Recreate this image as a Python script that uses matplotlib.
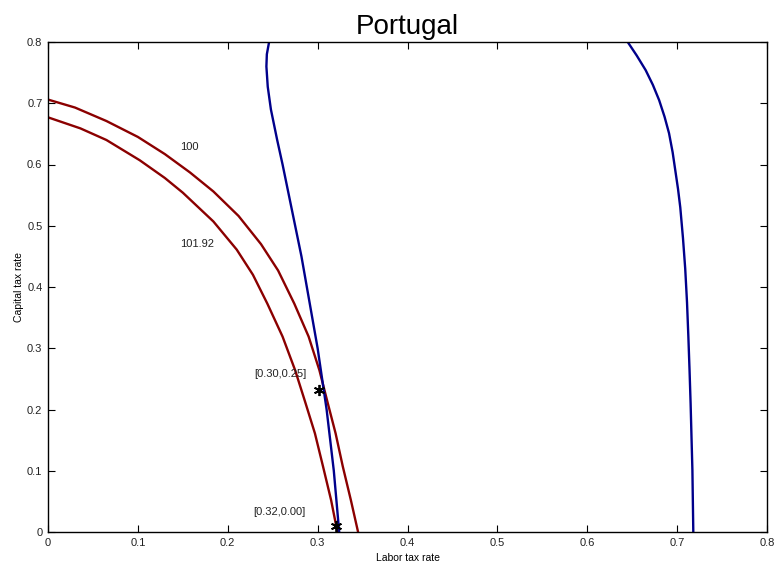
import matplotlib.pyplot as plt

plt.rcParams['font.family'] = ['Liberation Sans', 'DejaVu Sans']

# iso-welfare curves (red)
w100_x = [0.000, 0.030, 0.065, 0.100, 0.130, 0.158, 0.184, 0.212, 0.237, 0.256, 0.274, 0.290, 0.302, 0.311, 0.320, 0.328, 0.337, 0.345]
w100_y = [0.706, 0.693, 0.671, 0.645, 0.617, 0.587, 0.556, 0.516, 0.470, 0.427, 0.373, 0.319, 0.264, 0.212, 0.161, 0.107, 0.052, 0.000]

w10192_x = [0.000, 0.036, 0.065, 0.102, 0.130, 0.150, 0.184, 0.210, 0.228, 0.244, 0.261, 0.275, 0.286, 0.297, 0.306, 0.315, 0.322]
w10192_y = [0.677, 0.659, 0.640, 0.607, 0.578, 0.554, 0.507, 0.461, 0.420, 0.373, 0.319, 0.264, 0.213, 0.161, 0.107, 0.052, 0.000]

# blue curves
b1_x = [0.246, 0.2435, 0.243, 0.2445, 0.248, 0.255, 0.261, 0.268, 0.275, 0.282, 0.288, 0.294, 0.300, 0.305, 0.310, 0.314, 0.318, 0.321, 0.324]
b1_y = [0.800, 0.780, 0.760, 0.727, 0.690, 0.640, 0.600, 0.550, 0.500, 0.450, 0.400, 0.350, 0.300, 0.250, 0.200, 0.150, 0.100, 0.050, 0.000]

b2_x = [0.645, 0.655, 0.665, 0.673, 0.680, 0.686, 0.691, 0.695, 0.698, 0.701, 0.7035, 0.7065, 0.709, 0.711, 0.7125, 0.7138, 0.715, 0.716, 0.717, 0.7175, 0.718]
b2_y = [0.800, 0.778, 0.754, 0.730, 0.705, 0.678, 0.651, 0.620, 0.590, 0.560, 0.530, 0.480, 0.430, 0.375, 0.319, 0.265, 0.210, 0.155, 0.101, 0.050, 0.000]

star_x = [0.302, 0.321]
star_y = [0.232, 0.010]
star_labels = ['[0.30,0.25]', '[0.32,0.00]']
label_pos = [(0.259, 0.258), (0.257, 0.033)]

curve_labels = ['100', '101.92']
curve_label_pos = [(0.157, 0.629), (0.166, 0.470)]

ticks = [0, 0.1, 0.2, 0.3, 0.4, 0.5, 0.6, 0.7, 0.8]
tick_labels = ['0', '0.1', '0.2', '0.3', '0.4', '0.5', '0.6', '0.7', '0.8']

red = '#8b0000'
blue = '#00008b'

fig = plt.figure(figsize=(7.77, 5.69), dpi=100)
ax = fig.add_axes([48 / 777, 37 / 569, 719 / 777, 490 / 569])

ax.plot(w100_x, w100_y, color=red, lw=1.7)
ax.plot(w10192_x, w10192_y, color=red, lw=1.7)
ax.plot(b1_x, b1_y, color=blue, lw=1.7)
ax.plot(b2_x, b2_y, color=blue, lw=1.7)
ax.plot(star_x, star_y, color='k', marker=(6, 2, 0), ms=8, mew=1.3,
        ls='none', clip_on=False)

for txt, (x, y) in zip(star_labels, label_pos):
    ax.text(x, y, txt, fontsize=8, ha='center', va='center', color='#222222')
for txt, (x, y) in zip(curve_labels, curve_label_pos):
    ax.text(x, y, txt, fontsize=8, ha='center', va='center', color='#222222')

ax.set_xlim(0, 0.8)
ax.set_ylim(0, 0.8)
ax.set_xticks(ticks)
ax.set_xticklabels(tick_labels)
ax.set_yticks(ticks)
ax.set_yticklabels(tick_labels)
ax.tick_params(direction='in', top=True, right=True, length=5, width=0.8,
               labelsize=8, labelcolor='#222222', pad=4)
for s in ax.spines.values():
    s.set_linewidth(1.0)

ax.set_title('Portugal', fontsize=20, pad=6)
ax.set_xlabel('Labor tax rate', fontsize=7.5, labelpad=4)
ax.set_ylabel('Capital tax rate', fontsize=7.5, labelpad=2)

fig.savefig('out.png', dpi=100)
